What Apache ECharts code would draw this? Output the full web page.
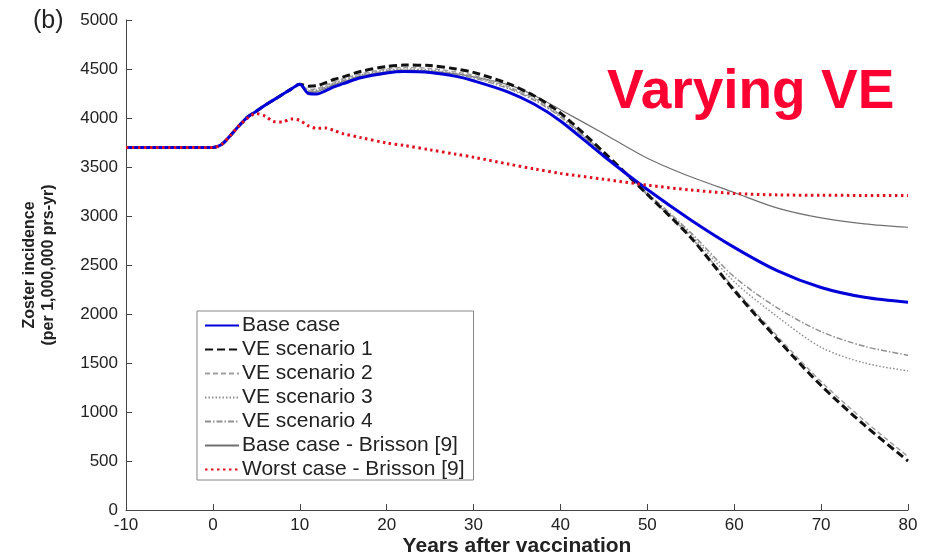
<!DOCTYPE html>
<html>
<head>
<meta charset="utf-8">
<script src="https://cdn.jsdelivr.net/npm/echarts@6/dist/echarts.min.js"></script>
<style>html,body{margin:0;padding:0;background:#fff;}#c{width:927px;height:555px;}</style>
</head>
<body>
<div id="c"></div>
<script>
var years = [-10,-5,0,1,2,3,4,5,6,7,8,9,10,11,12,13,14,15,17,20,22,25,28,30,34,37,40,45,50,55,60,65,70,75,80];
var rise = [3700,3700,3700,3730,3820,3920,4010,4070,4130,4185,4240,4295,4345];
var baseCase = rise.concat([4250,4245,4280,4320,4350,4410,4460,4475,4465,4425,4380,4265,4140,3970,3610,3270,2960,2680,2440,2270,2170,2120]);
var ve1 = rise.concat([4325,4330,4360,4395,4420,4475,4525,4540,4535,4500,4465,4350,4225,4050,3650,3220,2780,2240,1740,1270,865,500]);
var ve2 = rise.concat([4290,4300,4335,4370,4400,4450,4500,4515,4505,4470,4435,4320,4200,4030,3635,3215,2785,2260,1770,1310,910,545]);
var ve3 = rise.concat([4280,4290,4325,4360,4390,4440,4490,4500,4490,4455,4420,4310,4190,4020,3625,3225,2810,2330,1970,1660,1500,1420]);
var ve4 = rise.concat([4270,4280,4315,4350,4380,4430,4480,4490,4480,4445,4410,4300,4180,4010,3625,3235,2830,2380,2060,1820,1670,1580]);
var brissonBase = rise.concat([4265,4270,4305,4340,4370,4425,4470,4480,4475,4450,4420,4340,4230,4085,3840,3590,3400,3240,3080,2980,2920,2885]);
var brissonWorst = [3700,3700,3700,3730,3820,3920,4000,4045,4020,3965,3960,3990,3975,3920,3895,3898,3870,3840,3800,3745,3720,3675,3630,3600,3530,3480,3435,3375,3315,3265,3230,3215,3212,3210,3210];
var xTicks = [-10,0,10,20,30,40,50,60,70,80];
var yTicks = [0,500,1000,1500,2000,2500,3000,3500,4000,4500,5000];
var names = ['Base case','VE scenario 1','VE scenario 2','VE scenario 3','VE scenario 4','Base case - Brisson [9]','Worst case - Brisson [9]'];

function pairs(v){ return years.map(function(y,i){ return [y, v[i]]; }); }

var styles = [
  {color:'#0000d8', width:3, type:'solid', z:6},
  {color:'#111111', width:3, type:[8,4], z:5},
  {color:'#a0a0a0', width:1.5, type:[5,3], z:3},
  {color:'#909090', width:1.5, type:[1.5,2], z:3},
  {color:'#909090', width:1.5, type:[6,2,1.5,2], z:3},
  {color:'#707070', width:1.2, type:'solid', z:2},
  {color:'#e01020', width:3, type:[2.5,3.5], z:7}
];
var datasets = [baseCase, ve1, ve2, ve3, ve4, brissonBase, brissonWorst];

var series = datasets.map(function(d,i){
  var s = styles[i];
  return {
    name: names[i], type:'line', data: pairs(d), showSymbol:false, symbol:'none',
    smooth:0.3, z:s.z,
    lineStyle:{color:s.color, width:s.width, type:s.type},
    itemStyle:{color:s.color}
  };
});

var chart = echarts.init(document.getElementById('c'));
chart.setOption({
  animation:false,
  backgroundColor:'#ffffff',
  grid:{left:126, right:19, top:20, bottom:45, containLabel:false, outerBoundsMode:'none'},
  xAxis:{
    type:'value', min:-10, max:80, interval:10,
    name:'Years after vaccination', nameLocation:'middle', nameGap:36, nameMoveOverlap:false,
    nameTextStyle:{fontFamily:'Liberation Sans Narrow, Liberation Sans, Arial', fontWeight:'bold', fontSize:21, color:'#222', verticalAlign:'middle'},
    axisLine:{onZero:false, lineStyle:{color:'#444', width:1}},
    axisTick:{inside:true, length:6, lineStyle:{color:'#444'}},
    axisLabel:{fontFamily:'Liberation Sans Narrow, Liberation Sans, Arial', fontSize:17, color:'#222', margin:7,
      formatter:function(v){ return xTicks.indexOf(v)>=0 ? String(v) : ''; }},
    splitLine:{show:false}
  },
  yAxis:{
    type:'value', min:0, max:5000, interval:500,
    name:'Zoster incidence\n(per 1,000,000 prs-yr)', nameLocation:'middle', nameGap:68,
    nameTextStyle:{fontFamily:'Liberation Sans, Arial', fontWeight:'bold', fontSize:16, lineHeight:19, color:'#222'},
    axisLine:{show:true, onZero:false, lineStyle:{color:'#444', width:1}},
    axisTick:{show:true, inside:true, length:6, lineStyle:{color:'#444'}},
    axisLabel:{fontFamily:'Liberation Sans, Arial', fontSize:17, color:'#222', margin:8,
      formatter:function(v){ return yTicks.indexOf(v)>=0 ? String(v) : ''; }},
    splitLine:{show:false}
  },
  legend:{
    orient:'vertical', left:197, top:311, data:names,
    backgroundColor:'#fff', borderColor:'#888', borderWidth:1, borderRadius:0,
    padding:[4,9,0,7], itemWidth:34, itemHeight:14, itemGap:3,
    itemStyle:{opacity:0},
    textStyle:{fontFamily:'Liberation Sans, Arial', fontSize:21, color:'#222', padding:[0,0,0,-2]},
    selectedMode:false
  },
  graphic:[
    {type:'text', left:33, top:9, style:{text:'(b)', font:'25px "Liberation Sans", Arial', fill:'#222'}},
    {type:'text', left:607, top:65, style:{text:'Varying VE', font:'bold 55px "Liberation Sans", Arial', fill:'#ff0033'}}
  ],
  series:series
});
</script>
</body>
</html>
